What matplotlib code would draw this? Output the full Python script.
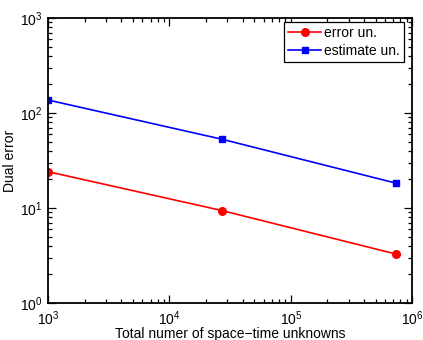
import matplotlib
matplotlib.use("Agg")
import matplotlib.pyplot as plt
from matplotlib.ticker import LogLocator, NullFormatter

plt.rcParams["font.family"] = ["Liberation Sans", "DejaVu Sans"]

unknowns = [1000, 27000, 729000]
error_un = [24.1, 9.4, 3.28]
estimate_un = [137, 53, 18.3]

fig = plt.figure(figsize=(4.23, 3.4), dpi=100)
ax = fig.add_axes([0.1135, 0.109, 0.861, 0.838])

ax.plot(unknowns, error_un, color="#ff0000", marker="o", markersize=5.5,
        linewidth=1.2, label="error un.")
ax.plot(unknowns, estimate_un, color="#0000ff", marker="s", markersize=5,
        linewidth=1.2, label="estimate un.")

ax.set_xscale("log")
ax.set_yscale("log")
ax.set_xlim(1e3, 1e6)
ax.set_ylim(1e0, 1e3)
ax.xaxis.set_minor_locator(LogLocator(base=10, subs=range(2, 10)))
ax.yaxis.set_minor_locator(LogLocator(base=10, subs=range(2, 10)))
ax.xaxis.set_minor_formatter(NullFormatter())
ax.yaxis.set_minor_formatter(NullFormatter())
ax.tick_params(which="both", direction="in", top=True, right=True,
               labelsize=10, width=0.9)
ax.tick_params(which="major", length=6)
ax.tick_params(axis="x", which="major", pad=5)
ax.tick_params(axis="y", which="major", pad=4)
ax.tick_params(which="minor", length=3)
for s in ax.spines.values():
    s.set_linewidth(1.3)

ax.set_xlabel("Total numer of space\u2212time unknowns", fontsize=10, labelpad=-1)
ax.set_ylabel("Dual error", fontsize=10, labelpad=2)

# legend box roughly x 292..404, y 22..58 px in the figure
leg = ax.legend(loc="upper right", bbox_to_anchor=(404 / 423, 1 - 22 / 340),
                bbox_transform=fig.transFigure, fontsize=10, fancybox=False,
                framealpha=1, edgecolor="black", borderaxespad=0,
                handlelength=2.4, handletextpad=0.2, borderpad=0.3,
                labelspacing=0.25)
leg.get_frame().set_linewidth(0.9)

fig.savefig("out.png", dpi=100)
